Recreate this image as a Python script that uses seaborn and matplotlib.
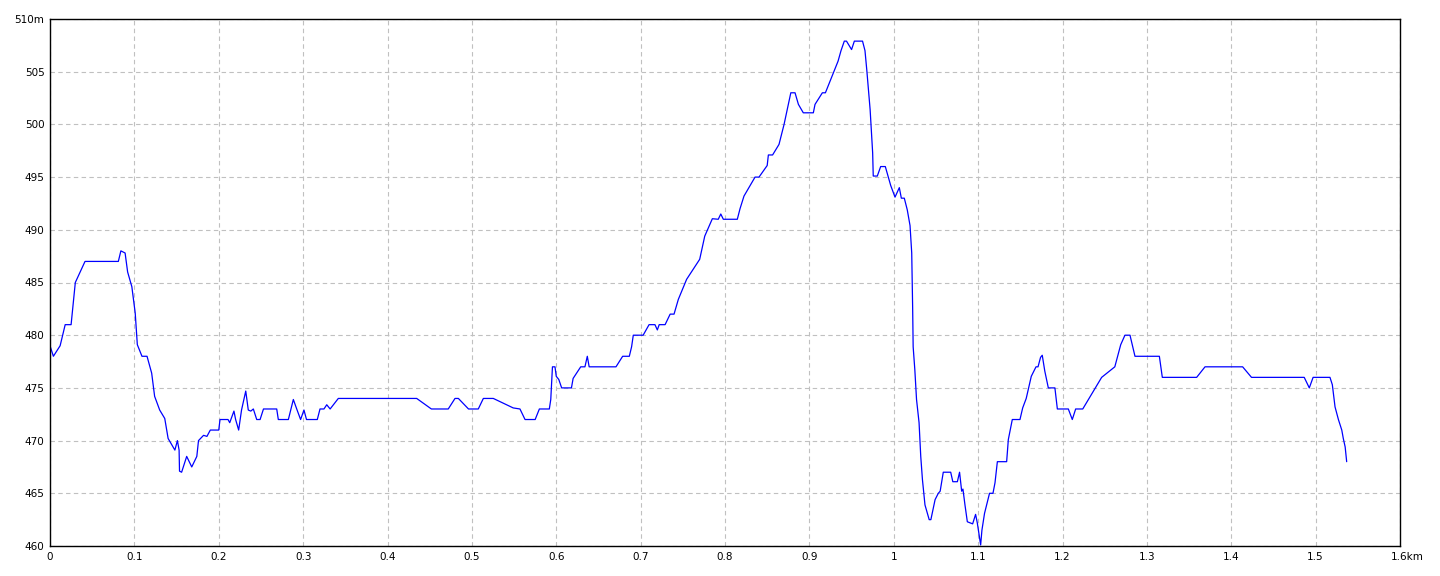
import numpy as np
import pandas as pd
import matplotlib
matplotlib.use("Agg")
import matplotlib.pyplot as plt
import matplotlib.transforms as mtransforms
import seaborn as sns

# Elevation profile (distance in km, elevation in m)
distance_km = [
    0.000, 0.004, 0.012, 0.018, 0.025, 0.030, 0.0415, 0.081, 0.084, 0.089,
    0.092, 0.097, 0.101, 0.1035, 0.109, 0.115, 0.1205, 0.124, 0.130, 0.136,
    0.140, 0.148, 0.151, 0.153, 0.1535, 0.156, 0.162, 0.168, 0.174, 0.176,
    0.182, 0.186, 0.190, 0.200, 0.2015, 0.211, 0.213, 0.218, 0.220, 0.2236,
    0.227, 0.232, 0.235, 0.238, 0.241, 0.245, 0.249, 0.253, 0.2687, 0.2706,
    0.2825, 0.2884, 0.2924, 0.297, 0.301, 0.304, 0.3168, 0.320, 0.3247, 0.328,
    0.332, 0.3417, 0.4346, 0.452, 0.472, 0.480, 0.484, 0.496, 0.5076, 0.5136,
    0.5254, 0.549, 0.557, 0.563, 0.575, 0.580, 0.5918, 0.5935, 0.5955, 0.5985,
    0.600, 0.603, 0.6064, 0.618, 0.620, 0.629, 0.634, 0.6368, 0.639, 0.6708,
    0.6787, 0.6866, 0.6893, 0.6913, 0.703, 0.710, 0.717, 0.7198, 0.722, 0.729,
    0.735, 0.7396, 0.7447, 0.7545, 0.770, 0.776, 0.785, 0.792, 0.795, 0.798,
    0.8146, 0.8178, 0.8225, 0.8356, 0.8403, 0.850, 0.8514, 0.8564, 0.864, 0.870,
    0.878, 0.883, 0.887, 0.8928, 0.9047, 0.9067, 0.9154, 0.919, 0.929, 0.934,
    0.9375, 0.9414, 0.944, 0.950, 0.9533, 0.963, 0.9659, 0.968, 0.972, 0.975,
    0.9757, 0.9805, 0.9845, 0.990, 0.9936, 0.9964, 1.0015, 1.0066, 1.009, 1.0125,
    1.016, 1.0193, 1.0213, 1.0224, 1.023, 1.025, 1.027, 1.030, 1.032, 1.034,
    1.037, 1.042, 1.044, 1.049, 1.0528, 1.055, 1.0587, 1.0675, 1.070, 1.0754,
    1.078, 1.0805, 1.082, 1.0844, 1.0872, 1.0935, 1.097, 1.099, 1.102, 1.103,
    1.1045, 1.1076, 1.1107, 1.1135, 1.1176, 1.120, 1.1228, 1.1338, 1.1358, 1.1405,
    1.1496, 1.1528, 1.157, 1.163, 1.1686, 1.171, 1.174, 1.176, 1.179, 1.1832,
    1.191, 1.1939, 1.2069, 1.2116, 1.2156, 1.224, 1.2464, 1.262, 1.269, 1.274,
    1.280, 1.2859, 1.3148, 1.3183, 1.359, 1.3689, 1.4135, 1.424, 1.4865, 1.4925,
    1.497, 1.517, 1.5198, 1.523, 1.527, 1.531, 1.5328, 1.535, 1.5368,
]
elevation_m = [
    479, 478, 479, 481, 481, 485, 487, 487, 488, 487.8,
    486, 484.6, 482.1, 479.1, 478, 478, 476.4, 474.2, 472.9, 472.1,
    470.2, 469.1, 470, 469.1, 467.1, 467, 468.5, 467.5, 468.5, 470,
    470.5, 470.4, 471, 471, 472, 472, 471.7, 472.8, 472, 471,
    472.9, 474.7, 472.9, 472.8, 473, 472, 472, 473, 473, 472,
    472, 473.9, 473, 472, 472.9, 472, 472, 473, 473, 473.4,
    473, 474, 474, 473, 473, 474, 474, 473, 473, 474,
    474, 473.1, 473, 472, 472, 473, 473, 473.9, 477, 477,
    476.1, 475.8, 475, 475, 475.9, 477, 477, 478, 477, 477,
    478, 478, 478.9, 480, 480, 481, 481, 480.5, 481, 481,
    482, 482, 483.4, 485.3, 487.2, 489.4, 491.05, 491, 491.5, 491,
    491, 492, 493.2, 495, 495, 496.1, 497.1, 497.1, 498.1, 500,
    503, 503, 501.9, 501.1, 501.1, 501.9, 503, 503, 505, 506,
    507, 507.9, 507.9, 507.1, 507.9, 507.9, 507, 505.2, 501.4, 497.3,
    495.1, 495.1, 496, 496, 495, 494.2, 493.1, 494, 493, 493,
    491.9, 490.4, 487.8, 482.6, 478.9, 476.7, 473.9, 471.7, 468.5, 466.3,
    463.9, 462.5, 462.5, 464.4, 465, 465.2, 467, 467, 466.1, 466.1,
    467, 465.2, 465.4, 463.9, 462.3, 462.1, 463, 462.2, 460.6, 460.1,
    461.5, 463.1, 464.1, 465, 465, 466, 468, 468, 470.1, 472,
    472, 473.1, 474, 476.1, 477, 477, 477.9, 478.1, 476.6, 475,
    475, 473, 473, 472, 473, 473, 476, 477, 479.1, 480,
    480, 478, 478, 476, 476, 477, 477, 476, 476, 475,
    476, 476, 475.3, 473.2, 472, 471, 470.2, 469.4, 468,
]

x_ticks = [round(0.1 * i, 1) for i in range(17)]
x_labels = ["0", "0.1", "0.2", "0.3", "0.4", "0.5", "0.6", "0.7", "0.8", "0.9",
            "1", "1.1", "1.2", "1.3", "1.4", "1.5", "1.6km"]
y_ticks = list(range(460, 511, 5))
y_labels = [str(v) for v in y_ticks[:-1]] + ["510m"]

profile = pd.DataFrame({"distance": distance_km, "elevation": elevation_m})

sns.set_style("white")
plt.rcParams["font.family"] = ["DejaVu Sans"]

fig = plt.figure(figsize=(14.4, 5.76), dpi=100)
ax = fig.add_axes([50 / 1440, 1 - 546 / 576, 1350 / 1440, 527 / 576])

sns.lineplot(data=profile, x="distance", y="elevation", color="#0000ff",
             linewidth=0.9, estimator=None, sort=False, ax=ax)

ax.set_xlim(0, 1.6)
ax.set_ylim(460, 510)
ax.set_xticks(x_ticks)
ax.set_xticklabels(x_labels)
ax.set_yticks(y_ticks)
ax.set_yticklabels(y_labels)
ax.set_xlabel("")
ax.set_ylabel("")

ax.grid(True, color="#c0c0c0", linestyle=(0, (4, 3)), linewidth=0.8)
ax.set_axisbelow(True)
for side in ["top", "right", "bottom", "left"]:
    ax.spines[side].set_visible(True)
    ax.spines[side].set_color("black")
    ax.spines[side].set_linewidth(1.0)

ax.tick_params(axis="both", length=0, labelsize=7.5, colors="black")
ax.tick_params(axis="x", pad=4)
ax.tick_params(axis="y", pad=4)

# the last x label sits with "1.6" centred on the tick and "km" trailing
last = ax.get_xticklabels()[-1]
last.set_transform(last.get_transform() +
                   mtransforms.ScaledTranslation(7 / 100, 0, fig.dpi_scale_trans))

fig.savefig("out.png", dpi=100, facecolor="white")
